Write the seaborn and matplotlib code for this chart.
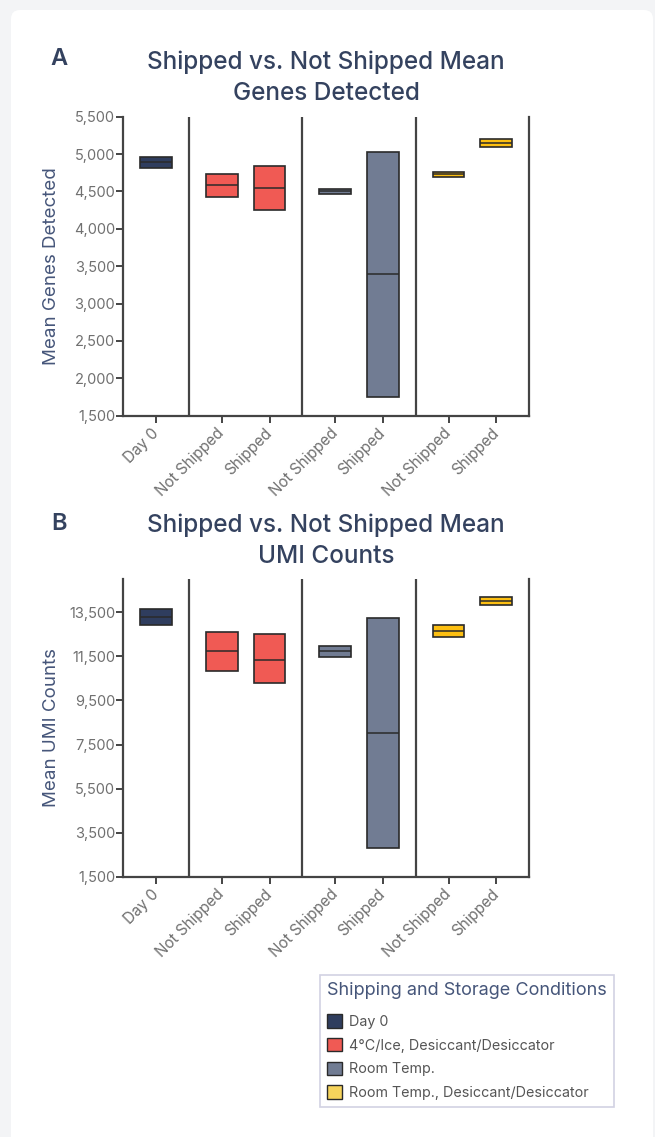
import numpy as np
import pandas as pd
import matplotlib
matplotlib.use("Agg")
import matplotlib.pyplot as plt
from matplotlib.patches import Patch, FancyBboxPatch
from matplotlib.ticker import StrMethodFormatter
import seaborn as sns

# ---- data -----------------------------------------------------------------
conditions = ["Day 0", "4°C/Ice, Desiccant/Desiccator", "Room Temp.",
              "Room Temp., Desiccant/Desiccator"]
samples = ["Day 0", "Not Shipped", "Shipped", "Not Shipped", "Shipped",
           "Not Shipped", "Shipped"]
sample_condition = [0, 1, 1, 2, 2, 3, 3]

genes_low = [4813, 4430, 4256, 4462, 1754, 4698, 5090]
genes_mean = [4890, 4582, 4546, 4500, 3391, 4729, 5144]
genes_high = [4965, 4737, 4845, 4537, 5023, 4755, 5202]

umi_low = [12942, 10828, 10293, 11480, 2800, 12368, 13835]
umi_mean = [13305, 11734, 11358, 11734, 8006, 12657, 14016]
umi_high = [13654, 12626, 12520, 11960, 13228, 12943, 14211]

genes_ticks = [1500, 2000, 2500, 3000, 3500, 4000, 4500, 5000, 5500]
umi_ticks = [1500, 3500, 5500, 7500, 9500, 11500, 13500]

# ---- style ----------------------------------------------------------------
bar_colors = ["#2f3d5e", "#f05a54", "#717c93", "#fcbf12"]
legend_colors = ["#2f3d5e", "#f05a54", "#717c93", "#f6d45c"]
navy = "#34425f"
label_navy = "#46567a"
tick_grey = "#707070"
axis_grey = "#444444"

sns.set_theme(style="white")
plt.rcParams["font.family"] = ["Inter", "DejaVu Sans"]

# x positions: unit spacing inside a condition, wider gap between conditions
group_gap = 1.38
positions = []
x = 0.0
for i, c in enumerate(sample_condition):
    if i > 0:
        x += 1.0 if c == sample_condition[i - 1] else group_gap
    positions.append(round(x, 4))
half_gap = group_gap / 2
bar_width = 0.66

fig = plt.figure(figsize=(6.55, 11.37), dpi=100)
fig.patch.set_facecolor("#f3f4f6")
card = FancyBboxPatch((0.11, -0.2), 6.42, 11.37 - 0.1 + 0.2,
                      boxstyle="round,pad=0,rounding_size=0.09",
                      transform=fig.dpi_scale_trans, facecolor="white",
                      edgecolor="none", zorder=-5)
fig.add_artist(card)


def draw_panel(ax, low, mean, high, ticks, ylim, ylabel):
    df = pd.DataFrame({"pos": positions, "cond": sample_condition,
                       "low": low, "mean": mean, "high": high})
    df["span"] = df["high"] - df["low"]
    for ci, sub in df.groupby("cond"):
        sns.barplot(data=sub, x="pos", y="span", bottom=sub["low"].values,
                    native_scale=True, orient="x", width=bar_width,
                    errorbar=None, color=bar_colors[ci],
                    edgecolor="#2a2a2a", linewidth=1.2, saturation=1,
                    ax=ax, zorder=3)
    ax.hlines(df["mean"], df["pos"] - bar_width / 2, df["pos"] + bar_width / 2,
              colors="#2a2a2a", linewidth=1.1, zorder=4)

    # separators between condition groups
    for i in range(1, len(positions)):
        if sample_condition[i] != sample_condition[i - 1]:
            ax.axvline((positions[i] + positions[i - 1]) / 2,
                       color=axis_grey, linewidth=1.6, zorder=2)

    ax.set_xlim(positions[0] - half_gap, positions[-1] + half_gap)
    ax.set_ylim(*ylim)
    ax.set_yticks(ticks)
    ax.yaxis.set_major_formatter(StrMethodFormatter("{x:,.0f}"))
    ax.set_xticks(positions)
    ax.set_xticklabels(samples, rotation=45, ha="right", va="center",
                       rotation_mode="anchor")
    ax.set_xlabel("")
    ax.set_ylabel(ylabel, fontsize=13.5, color=label_navy)
    ax.yaxis.set_label_coords(-0.155, 0.5)

    sns.despine(ax=ax, top=True, right=False)
    for side in ("left", "bottom", "right"):
        ax.spines[side].set_color(axis_grey)
        ax.spines[side].set_linewidth(1.6)
    ax.tick_params(axis="both", which="major", length=5, width=1.4,
                   color=axis_grey, labelsize=10.5, labelcolor=tick_grey,
                   bottom=True, left=True)
    ax.tick_params(axis="x", labelsize=11, pad=6)
    ax.tick_params(axis="y", pad=1)
    ax.grid(False)


ax_a = fig.add_axes([0.1883, 0.6344, 0.6193, 0.2630])
ax_b = fig.add_axes([0.1883, 0.2289, 0.6193, 0.2616])

draw_panel(ax_a, genes_low, genes_mean, genes_high, genes_ticks,
           (1500, 5500), "Mean Genes Detected")
draw_panel(ax_b, umi_low, umi_mean, umi_high, umi_ticks,
           (1500, 15000), "Mean UMI Counts")

title_kw = dict(ha="center", va="center", fontsize=17.5, fontweight="medium",
                color=navy, linespacing=1.45)
fig.text(326 / 655, 1 - 78 / 1137,
         "Shipped vs. Not Shipped Mean\nGenes Detected", **title_kw)
fig.text(326 / 655, 1 - 541 / 1137,
         "Shipped vs. Not Shipped Mean\nUMI Counts", **title_kw)

panel_kw = dict(ha="left", va="center", fontsize=17, fontweight="semibold",
                color=navy)
fig.text(50 / 655, 1 - 59 / 1137, "A", **panel_kw)
fig.text(51 / 655, 1 - 524 / 1137, "B", **panel_kw)

handles = [Patch(facecolor=c, edgecolor="#2a2a2a", linewidth=1.0)
           for c in legend_colors]
leg = fig.legend(handles, conditions, loc="upper left",
                 bbox_to_anchor=(320 / 655, 1 - 975 / 1137),
                 title="Shipping and Storage Conditions",
                 title_fontsize=13, fontsize=10.3, frameon=True,
                 fancybox=False, edgecolor="#c7c7dc", facecolor="white",
                 handlelength=1.05, handleheight=1.05, handletextpad=0.45,
                 labelspacing=0.64, borderpad=0.5, alignment="left",
                 borderaxespad=0)
# a little more room between the title and the first entry
leg._legend_box.sep = 11
leg.get_frame().set_linewidth(1.2)
leg.get_title().set_color(label_navy)
for t in leg.get_texts():
    t.set_color("#555555")

fig.savefig("out.png", dpi=100)
